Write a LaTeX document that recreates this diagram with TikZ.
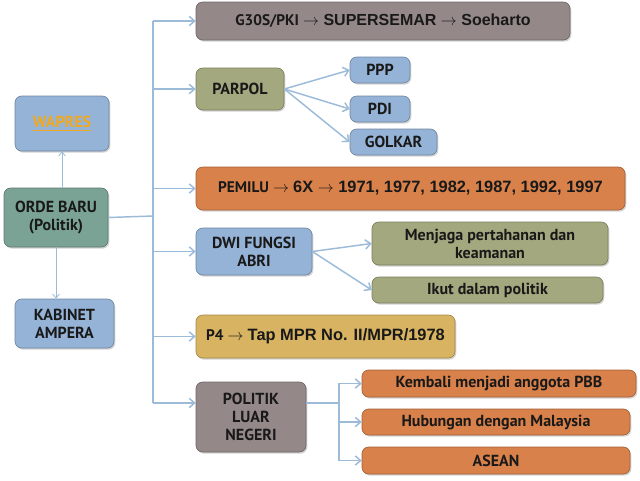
\documentclass[tikz,border=0pt]{standalone}
\usepackage{amsmath}
\usepackage{amssymb}
\usepackage{fontspec}
\setmainfont{PT Sans}
\newfontfamily\arialfont{Liberation Sans}
\usetikzlibrary{arrows.meta,shadows}

\definecolor{cBlue}{RGB}{149,179,215}
\definecolor{cTeal}{RGB}{122,163,149}
\definecolor{cOlive}{RGB}{164,168,126}
\definecolor{cMauve}{RGB}{148,136,136}
\definecolor{cOrange}{RGB}{217,129,74}
\definecolor{cGold}{RGB}{216,180,98}
\definecolor{cLine}{RGB}{155,187,217}
\definecolor{cLink}{RGB}{240,168,32}

\tikzset{
  box/.style={rounded corners=5pt, line width=0.5pt, align=center, inner sep=1pt,
    font=\bfseries\fontsize{12}{13.5}\selectfont, text=black!90,
    drop shadow={shadow xshift=1pt, shadow yshift=-1.2pt, opacity=0.35}},
  sz/.style 2 args={minimum width=#1*0.75pt, minimum height=#2*0.75pt},
  blue box/.style={box, fill=cBlue, draw=cBlue!75!black},
  teal box/.style={box, fill=cTeal, draw=cTeal!75!black},
  olive box/.style={box, fill=cOlive, draw=cOlive!75!black},
  mauve box/.style={box, fill=cMauve, draw=cMauve!75!black},
  orange box/.style={box, fill=cOrange, draw=cOrange!75!black},
  gold box/.style={box, fill=cGold, draw=cGold!75!black},
  br/.style={draw=cLine, line width=1.1pt, -{Straight Barb[length=4pt,width=7pt]}},
  br0/.style={draw=cLine, line width=1.1pt},
  thin br/.style={draw=cLine, line width=0.6pt, -{Straight Barb[length=3pt,width=5pt]}}
}
\newcommand{\smalltxt}{\fontsize{11.5}{13}\selectfont}
\newcommand{\bigtxt}{\arialfont\fontsize{12.3}{14}\selectfont}

\begin{document}
\begin{tikzpicture}[x=0.75pt,y=0.75pt,yscale=-1,xscale=1]
\useasboundingbox (0,0) rectangle (640,480);

% Left column
\node [blue box, sz={94}{55}] (wapres) at (62,123.5) {\textcolor{cLink}{\underline{WAPRES}}};
\node [teal box, sz={104}{59}] (orde) at (56,217.5) {ORDE BARU\\(Politik)};
\node [blue box, sz={99}{49}] (kabinet) at (64.5,323.5) {KABINET\\AMPERA};

% Main branches
\node [mauve box, sz={374}{38}] (g30s) at (383,21) {{\smalltxt G30S/PKI} {\arialfont\fontsize{12}{14}\selectfont$\rightarrow$ SUPERSEMAR $\rightarrow$ Soeharto}};
\node [olive box, sz={88}{42}] (parpol) at (240,89) {PARPOL};
\node [orange box, sz={429}{43}] (pemilu) at (410.5,188.5) {{\smalltxt PEMILU} $\rightarrow$ {\bigtxt 6X $\rightarrow$ 1971, 1977, 1982, 1987, 1992, 1997}};
\node [blue box, sz={116}{47}] (dwi) at (254,251.5) {DWI FUNGSI\\ABRI};
\node [gold box, sz={259}{43}] (p4) at (325.5,336.5) {{\smalltxt P4} $\rightarrow$ {\bigtxt Tap MPR No. II/MPR/1978}};
\node [mauve box, sz={110}{70}] (politik) at (251,417) {POLITIK\\LUAR\\NEGERI};

% Sub branches
\node [blue box, sz={60}{26}] (ppp) at (380,70) {PPP};
\node [blue box, sz={60}{26}] (pdi) at (380,109) {PDI};
\node [blue box, sz={87}{26}] (golkar) at (393.5,142) {GOLKAR};
\node [olive box, sz={236}{43}] (menjaga) at (490,243.5) {Menjaga pertahanan dan\\keamanan};
\node [olive box, sz={231}{26}] (ikut) at (487.5,290) {Ikut dalam politik};
\node [orange box, sz={274}{27}] (kembali) at (499,383.5) {Kembali menjadi anggota PBB};
\node [orange box, sz={268}{26}] (hubungan) at (496,422) {Hubungan dengan Malaysia};
\node [orange box, sz={268}{27}] (asean) at (496,460.5) {ASEAN};

% Trunk
\coordinate (tA) at (153,21);
\coordinate (tO) at (153,216);
\coordinate (tB) at (153,403);
\coordinate (pj) at (339,403);
\draw [br0] (tA) -- (tB);
\draw [br0] (orde.east) -- (tO);
\draw [thin br] (orde.north -| wapres.south) -- (wapres.south);
\draw [thin br] (orde.south) -- (kabinet.north -| orde.south);

\foreach \n in {g30s,parpol,pemilu,dwi,p4}
  \draw [br] (tA |- \n.west) -- (\n.west);
\draw [br] (tB) -- (politik.west |- tB);

% Second level
\foreach \n in {ppp,pdi,golkar}
  \draw [br] (parpol.east) -- (\n.west);
\foreach \n in {menjaga,ikut}
  \draw [br] (dwi.east) -- (\n.west);
\draw [br0] (politik.east |- pj) -- (pj);
\foreach \n in {kembali,hubungan,asean}
  \draw [br] (pj) |- (\n.west);

\end{tikzpicture}
\end{document}
